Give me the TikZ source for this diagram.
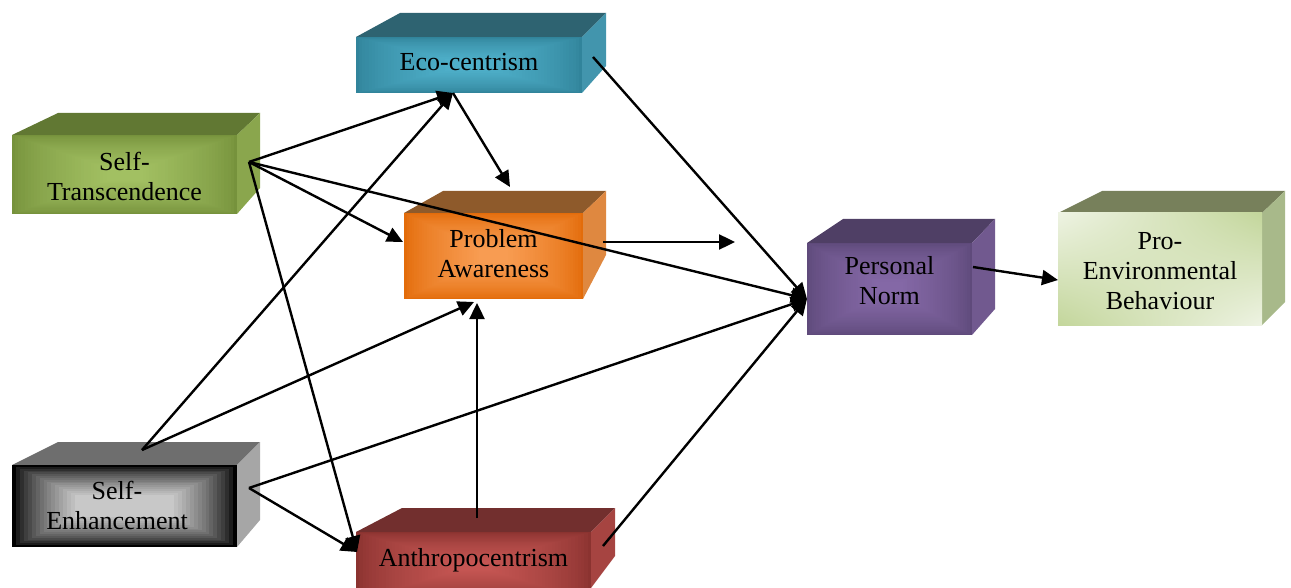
\documentclass[tikz,border=0pt]{standalone}
\usepackage{fontspec}
\setmainfont{Liberation Serif}
\usetikzlibrary{arrows.meta,shadings}

% face colours: top, side, front edge (out), front centre (in)
\definecolor{sttop}{HTML}{617833}\definecolor{stside}{HTML}{8AA64D}
\definecolor{stout}{HTML}{76923C}\definecolor{stin}{HTML}{A2C062}
\definecolor{setop}{HTML}{6E6E6E}\definecolor{seside}{HTML}{A6A6A6}
\definecolor{seout}{HTML}{000000}\definecolor{sein}{HTML}{C8C8C8}
\definecolor{ectop}{HTML}{2E6371}\definecolor{ecside}{HTML}{4295AD}
\definecolor{ecout}{HTML}{31849B}\definecolor{ecin}{HTML}{4FB0CA}
\definecolor{patop}{HTML}{8E5A2B}\definecolor{paside}{HTML}{DF8840}
\definecolor{paout}{HTML}{E36C0A}\definecolor{pain}{HTML}{F89C52}
\definecolor{antop}{HTML}{722F2E}\definecolor{anside}{HTML}{A64441}
\definecolor{anout}{HTML}{8B3330}\definecolor{anin}{HTML}{C45552}
\definecolor{pntop}{HTML}{4F3F65}\definecolor{pnside}{HTML}{71598F}
\definecolor{pnout}{HTML}{5F4A7B}\definecolor{pnin}{HTML}{8468A6}
\definecolor{pbtop}{HTML}{77805B}\definecolor{pbside}{HTML}{A8B98A}
\definecolor{pblight}{HTML}{EEF3E3}\definecolor{pbgreen}{HTML}{C3D69B}

\tikzset{
  boxlabel/.style={font=\fontsize{26}{30}\selectfont, align=center, inner sep=0pt, text=black},
  link/.style={line width=2.4pt, -{Triangle[length=16pt,width=15pt]}},
}

% top and side faces of an extruded box
% #1 front-left x, #2 front-top y, #3 front-right x, #4 front-bottom y,
% #5 back-left x, #6 back-top y, #7 back-right x, #8 side-bottom y, #9 colour prefix
\newcommand\boxfaces[9]{%
  \fill[#9top] (#1,#2) -- (#5,#6) -- (#7,#6) -- (#3,#2) -- cycle;
  \fill[#9side] (#3,#2) -- (#7,#6) -- (#7,#8) -- (#3,#4) -- cycle;
}

% front face with a glow from the edges to the centre
% #1 x1, #2 y1, #3 x2, #4 y2, #5 edge colour, #6 centre colour, #7 steps,
% #8 horizontal reach, #9 vertical reach (fractions of the face)
\newcommand\glowface[9]{%
  \foreach \gi in {0,...,#7}{%
    \pgfmathsetmacro\gfrac{\gi/#7}%
    \pgfmathtruncatemacro\gpct{100*(\gfrac^0.7)}%
    \pgfmathsetmacro\gdx{\gfrac*#8*(#3-#1)}%
    \pgfmathsetmacro\gdy{\gfrac*#9*(#4-#2)}%
    \fill[#6!\gpct!#5] ({#1+\gdx},{#2+\gdy}) rectangle ({#3-\gdx},{#4-\gdy});
  }%
}

\begin{document}
\begin{tikzpicture}[x=1pt,y=-1pt]
\useasboundingbox (0,0) rectangle (1291,588);

% Self-Transcendence
\boxfaces{12}{135}{237}{214}{58}{113}{260}{188}{st}
\glowface{12}{135}{237}{214}{stout}{stin}{30}{0.42}{0.42}
\node[boxlabel] (st) at (124.5,176) {Self-\\Transcendence};

% Self-Enhancement
\boxfaces{12}{465}{237}{547}{58}{442}{260}{520}{se}
\glowface{12}{465}{237}{547}{seout}{sein}{16}{0.28}{0.36}
\node[boxlabel] (se) at (117,505) {Self-\\Enhancement};

% Eco-centrism
\boxfaces{356}{37}{582}{93}{400}{13}{606}{66}{ec}
\glowface{356}{37}{582}{93}{ecout}{ecin}{30}{0.42}{0.42}
\node[boxlabel] (ec) at (469,62) {Eco-centrism};

% Problem Awareness
\boxfaces{404}{213}{583}{299}{443}{191}{606}{255}{pa}
\glowface{404}{213}{583}{299}{paout}{pain}{30}{0.42}{0.42}
\node[boxlabel] (pa) at (493.5,253.5) {Problem\\Awareness};

% Anthropocentrism
\boxfaces{356}{532}{591}{588}{402}{508}{615}{556}{an}
\glowface{356}{532}{591}{600}{anout}{anin}{30}{0.42}{0.42}
\node[boxlabel] (an) at (473.5,560) {Anthropocentrism};

% Personal Norm
\boxfaces{807}{243}{972}{335}{843}{219}{995}{309}{pn}
\glowface{807}{243}{972}{335}{pnout}{pnin}{30}{0.42}{0.42}
\node[boxlabel] (pn) at (889.5,281) {Personal\\Norm};

% Pro-Environmental Behaviour
\boxfaces{1058}{213}{1262}{325}{1102}{191}{1285}{302}{pb}
\shade[upper left=pblight, lower right=pblight, upper right=pbgreen, lower left=pbgreen]
  (1058,213) rectangle (1262,325);
\node[boxlabel] (pb) at (1160,271) {Pro-\\Environmental\\Behaviour};

% connection points on the boxes
\coordinate (st-out) at (249,162);
\coordinate (se-top) at (142,450);
\coordinate (se-out) at (249,488);
\coordinate (ec-in) at (453,93);
\coordinate (ec-out) at (593,57);
\coordinate (pa-top) at (510,187);
\coordinate (pa-left) at (403,242);
\coordinate (pa-bot1) at (474,302);
\coordinate (pa-bot2) at (477,303);
\coordinate (pa-out) at (603,242);
\coordinate (pa-end) at (735,242);
\coordinate (an-in) at (357,552);
\coordinate (an-top) at (477,518);
\coordinate (an-out) at (603,546);
\coordinate (pn-in) at (807,299);
\coordinate (pn-out) at (973,267);
\coordinate (pb-in) at (1058,280);

% paths
\draw[link] (st-out) -- (ec-in);
\draw[link] (st-out) -- (pa-left);
\draw[link] (st-out) -- (pn-in);
\draw[link] (st-out) -- (an-in);
\draw[link] (se-top) -- (ec-in);
\draw[link] (se-top) -- (pa-bot1);
\draw[link] (se-out) -- (pn-in);
\draw[link] (se-out) -- (an-in);
\draw[link] (ec-in) -- (pa-top);
\draw[link] (ec-out) -- (pn-in);
\draw[link] (an-top) -- (pa-bot2);
\draw[link] (an-out) -- (pn-in);
\draw[link] (pa-out) -- (pa-end);
\draw[link] (pn-out) -- (pb-in);
\end{tikzpicture}
\end{document}
